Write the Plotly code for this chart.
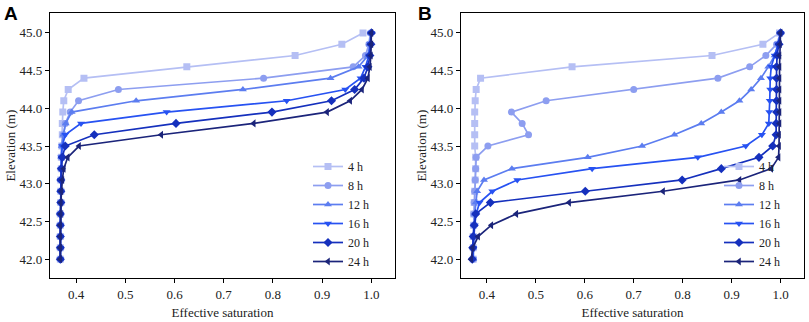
import plotly.graph_objects as go

# Elevation (m) of each node, top to bottom
elevation = [45.0, 44.85, 44.7, 44.55, 44.4, 44.25, 44.1, 43.95, 43.8, 43.65, 43.5,
             43.35, 43.2, 43.05, 42.9, 42.75, 42.6, 42.45, 42.3, 42.15, 42.0]

series_names = ["4 h", "8 h", "12 h", "16 h", "20 h", "24 h"]

# Panel A: effective saturation
a_4h = [0.983, 0.940, 0.845, 0.625, 0.416, 0.384, 0.375, 0.373, 0.372, 0.372, 0.371,
        0.370, 0.370, 0.369, 0.369, 0.369, 0.368, 0.368, 0.368, 0.368, 0.368]
a_8h = [0.998, 0.995, 0.988, 0.963, 0.781, 0.486, 0.405, 0.388, 0.378, 0.374, 0.371,
        0.370, 0.370, 0.369, 0.369, 0.369, 0.368, 0.368, 0.368, 0.368, 0.368]
a_12h = [0.999, 0.997, 0.993, 0.974, 0.917, 0.739, 0.522, 0.391, 0.379, 0.374, 0.371,
         0.370, 0.370, 0.369, 0.369, 0.369, 0.368, 0.368, 0.368, 0.368, 0.368]
a_16h = [1.000, 0.998, 0.995, 0.988, 0.978, 0.947, 0.828, 0.584, 0.410, 0.378, 0.372,
         0.370, 0.370, 0.369, 0.369, 0.369, 0.368, 0.368, 0.368, 0.368, 0.368]
a_20h = [1.000, 0.999, 0.997, 0.993, 0.985, 0.966, 0.919, 0.798, 0.603, 0.437, 0.378,
         0.372, 0.370, 0.369, 0.369, 0.369, 0.368, 0.368, 0.368, 0.368, 0.368]
a_24h = [1.000, 1.000, 0.999, 0.997, 0.993, 0.981, 0.957, 0.910, 0.761, 0.573, 0.406,
         0.383, 0.375, 0.372, 0.370, 0.369, 0.369, 0.368, 0.368, 0.368, 0.368]

# Panel B: effective saturation
b_4h = [0.998, 0.964, 0.860, 0.574, 0.387, 0.378, 0.376, 0.375, 0.375, 0.375, 0.375,
        0.377, 0.377, 0.376, 0.375, 0.374, 0.373, 0.373, 0.372, 0.372, 0.372]
b_8h = [1.000, 0.992, 0.970, 0.937, 0.872, 0.700, 0.521, 0.450, 0.472, 0.485, 0.402,
        0.378, 0.377, 0.376, 0.375, 0.374, 0.373, 0.373, 0.372, 0.372, 0.372]
b_12h = [1.000, 0.996, 0.988, 0.975, 0.960, 0.940, 0.916, 0.879, 0.838, 0.783, 0.717,
         0.606, 0.451, 0.394, 0.380, 0.377, 0.375, 0.374, 0.373, 0.372, 0.372]
b_16h = [1.000, 0.995, 0.988, 0.981, 0.979, 0.979, 0.978, 0.977, 0.976, 0.962, 0.929,
         0.831, 0.615, 0.462, 0.411, 0.385, 0.378, 0.375, 0.373, 0.372, 0.371]
b_20h = [1.000, 0.997, 0.993, 0.992, 0.992, 0.992, 0.992, 0.992, 0.991, 0.991, 0.984,
         0.956, 0.879, 0.799, 0.601, 0.407, 0.377, 0.374, 0.372, 0.371, 0.370]
b_24h = [1.000, 0.999, 0.998, 0.998, 0.998, 0.998, 0.998, 0.998, 0.998, 0.997, 0.997,
         0.996, 0.981, 0.916, 0.760, 0.568, 0.460, 0.409, 0.382, 0.371, 0.368]

x_ticks = [0.4, 0.5, 0.6, 0.7, 0.8, 0.9, 1.0]
y_ticks = [42.0, 42.5, 43.0, 43.5, 44.0, 44.5, 45.0]

colors = ["#b5bff4", "#8d9ef0", "#5c7df0", "#2752f2", "#1530bd", "#1b247a"]
symbols = ["square", "circle", "triangle-up", "triangle-down", "diamond", "triangle-left"]

panel_a = [a_4h, a_8h, a_12h, a_16h, a_20h, a_24h]
panel_b = [b_4h, b_8h, b_12h, b_16h, b_20h, b_24h]

SERIF = "Liberation Serif"
SANS = "Liberation Sans"
W, H = 809, 322

fig = go.Figure()
for i, name in enumerate(series_names):
    fig.add_trace(go.Scatter(
        x=panel_a[i], y=elevation, mode="lines+markers", name=name,
        line=dict(color=colors[i], width=1.7),
        marker=dict(symbol=symbols[i], size=7, color=colors[i]),
        xaxis="x", yaxis="y", legend="legend"))
for i, name in enumerate(series_names):
    fig.add_trace(go.Scatter(
        x=panel_b[i], y=elevation, mode="lines+markers", name=name,
        line=dict(color=colors[i], width=1.7),
        marker=dict(symbol=symbols[i], size=7, color=colors[i]),
        xaxis="x2", yaxis="y2", legend="legend2"))

axis_common = dict(showline=True, mirror=True, linecolor="black", linewidth=1.3,
                   ticks="outside", ticklen=4, tickwidth=1, tickcolor="black",
                   showgrid=False, zeroline=False, automargin=False,
                   tickfont=dict(family=SERIF, size=13, color="#222"))

title_font = dict(family=SERIF, size=13, color="#222")

xr = [0.347, 1.048]
yr = [41.75, 45.26]
ydom = [1 - 278 / H, 1 - 13.3 / H]

fig.update_layout(
    width=W, height=H,
    margin=dict(l=0, r=0, t=0, b=0, autoexpand=False),
    paper_bgcolor="white", plot_bgcolor="white",
    font=dict(family=SERIF, size=13, color="#222"),
    xaxis=dict(domain=[50 / W, 395 / W], range=xr, tickvals=x_ticks, tickformat=".1f",
               anchor="y", title=dict(text="Effective saturation", font=title_font, standoff=7),
               **axis_common),
    yaxis=dict(domain=ydom, range=yr, tickvals=y_ticks, tickformat=".1f", anchor="x",
               title=dict(text="Elevation (m)", font=title_font, standoff=0),
               **axis_common),
    xaxis2=dict(domain=[461 / W, 804 / W], range=xr, tickvals=x_ticks, tickformat=".1f",
                anchor="y2", title=dict(text="Effective saturation", font=title_font, standoff=7),
                **axis_common),
    yaxis2=dict(domain=ydom, range=yr, tickvals=y_ticks, tickformat=".1f", anchor="x2",
                title=dict(text="Elevation (m)", font=title_font, standoff=0),
                **axis_common),
    legend=dict(x=(350 - 42) / W, xanchor="left", y=1 - 276 / H, yanchor="bottom",
                bgcolor="rgba(0,0,0,0)", font=dict(family=SERIF, size=12, color="#222"),
                itemwidth=30),
    legend2=dict(x=(761 - 42) / W, xanchor="left", y=1 - 276 / H, yanchor="bottom",
                 bgcolor="rgba(0,0,0,0)", font=dict(family=SERIF, size=12, color="#222"),
                 itemwidth=30),
    annotations=[
        dict(text="<b>A</b>", x=2 / W, y=1 - 1 / H, xref="paper", yref="paper",
             xanchor="left", yanchor="top", showarrow=False,
             font=dict(family=SANS, size=19, color="black")),
        dict(text="<b>B</b>", x=416 / W, y=1 - 1 / H, xref="paper", yref="paper",
             xanchor="left", yanchor="top", showarrow=False,
             font=dict(family=SANS, size=19, color="black")),
    ],
)

fig.write_html("out.html", config={"displayModeBar": False},
               post_script="document.body.style.margin='0';document.body.style.padding='0';")
